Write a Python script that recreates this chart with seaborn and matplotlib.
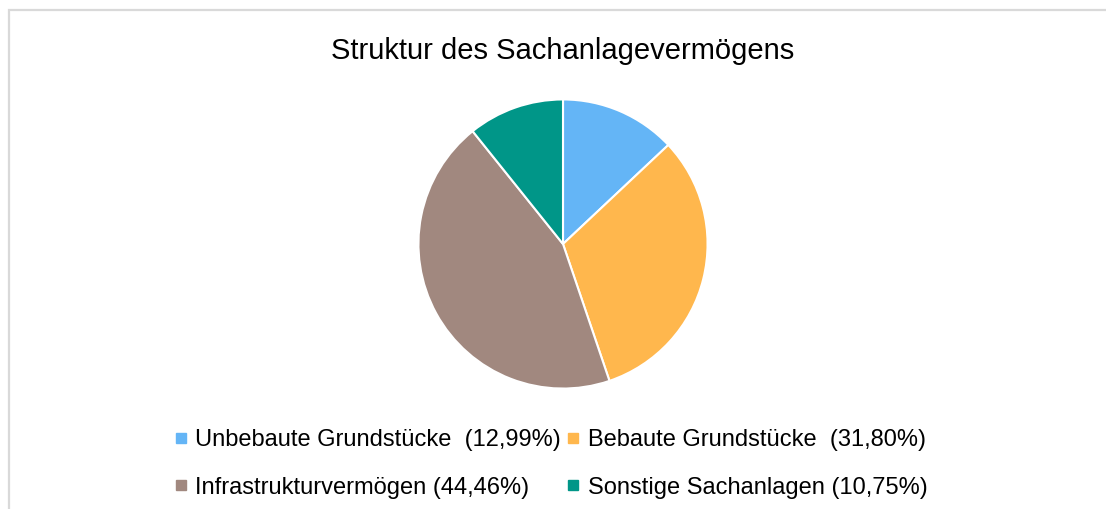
import matplotlib
matplotlib.use("Agg")
import matplotlib.pyplot as plt
import seaborn as sns
from matplotlib.patches import Rectangle
from matplotlib.lines import Line2D

categories = ["Unbebaute Grundstücke", "Bebaute Grundstücke", "Infrastrukturvermögen", "Sonstige Sachanlagen"]
values = [12.99, 31.80, 44.46, 10.75]
legend_labels = ["Unbebaute Grundstücke  (12,99%)", "Bebaute Grundstücke  (31,80%)",
                 "Infrastrukturvermögen (44,46%)", "Sonstige Sachanlagen (10,75%)"]
colors = ["#64B5F6", "#FFB74D", "#A1887F", "#009688"]
title = "Struktur des Sachanlagevermögens"

sns.set_theme(style="white")
plt.rcParams['font.family'] = ['Liberation Sans', 'DejaVu Sans']

W, H = 1106, 509
fig = plt.figure(figsize=(W / 100, H / 100), dpi=100)
fig.patch.set_facecolor("white")

# border
fig.patches.append(Rectangle((9 / W, -0.1), 1.2, (H - 10) / H + 0.1, transform=fig.transFigure,
                             fill=False, edgecolor="#D9D9D9", linewidth=1.6))

cx, cy, r = 563, 244, 146
ax = fig.add_axes([(cx - r) / W, (H - cy - r) / H, 2 * r / W, 2 * r / H])
ax.pie(values, colors=colors, startangle=90, counterclock=False, radius=1,
       wedgeprops=dict(edgecolor="white", linewidth=1.5))
ax.set_xlim(-1.01, 1.01)
ax.set_ylim(-1.01, 1.01)
ax.set_aspect("equal")
ax.axis("off")

fig.text(563 / W, 1 - 51 / H, title, ha="center", va="center", fontsize=21, color="#000000")

handles = [Line2D([0], [0], marker="s", linestyle="", markersize=7.5, markerfacecolor=c,
                  markeredgecolor=c) for c in colors]
order = [0, 2, 1, 3]  # row-wise fill for ncol=2
leg = fig.legend([handles[i] for i in order], [legend_labels[i] for i in order], ncol=2,
                 loc="center", bbox_to_anchor=(551 / W, 1 - 464 / H),
                 frameon=False, fontsize=17, handlelength=0.5, handletextpad=0.35,
                 columnspacing=0.3, labelspacing=1.08)
for t in leg.get_texts():
    t.set_color("#000000")

fig.savefig("out.png", dpi=100, facecolor="white")
